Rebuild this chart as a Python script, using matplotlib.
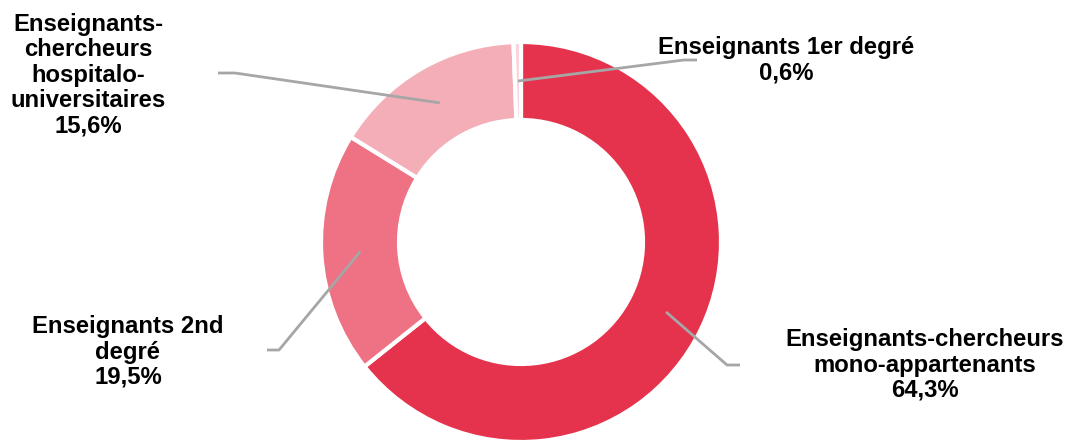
import numpy as np
import matplotlib
matplotlib.use("Agg")
import matplotlib.pyplot as plt

# Répartition des enseignants (%)
categories = [
    "Enseignants-chercheurs\nmono-appartenants",
    "Enseignants 2nd\ndegré",
    "Enseignants-\nchercheurs\nhospitalo-\nuniversitaires",
    "Enseignants 1er degré",
]
values = [64.3, 19.5, 15.6, 0.6]
colors = ["#E5334D", "#EE7184", "#F4AEB7", "#F9D4DA"]
value_labels = ["64,3%", "19,5%", "15,6%", "0,6%"]

W, H = 1073, 448
fig = plt.figure(figsize=(W / 100, H / 100), dpi=100)
ax = fig.add_axes([0, 0, 1, 1])

cx, cy, R = 521, H - 242, 200
ring = 0.39

wedges, _ = ax.pie(
    values, colors=colors, startangle=90, counterclock=False,
    center=(cx, cy), radius=R,
    wedgeprops=dict(width=R * ring, edgecolor="white", linewidth=3),
)
ax.set_xlim(0, W)
ax.set_ylim(0, H)
ax.set_aspect("auto")
ax.axis("off")

# Leader elbows and label centres (pixel coords, y from top)
elbows = [((727, 365), (740, 365)),
          ((279, 350), (267, 350)),
          ((235, 73), (218, 73)),
          ((684, 60), (697, 60))]
label_pos = [(925, 365), (128, 352), (88, 75), (786, 60)]

r_mid = R * (1 - ring / 2)
for w, (e1, e2), (lx, ly), cat, val in zip(wedges, elbows, label_pos,
                                            categories, value_labels):
    ang = np.deg2rad((w.theta1 + w.theta2) / 2)
    sx, sy = cx + r_mid * np.cos(ang), cy + r_mid * np.sin(ang)
    ax.plot([sx, e1[0], e2[0]], [sy, H - e1[1], H - e2[1]],
            color="#A6A6A6", lw=2, solid_capstyle="butt", zorder=3)
    ax.text(lx, H - ly, f"{cat}\n{val}", ha="center", va="center",
            fontsize=17.2, fontweight="bold", family="Liberation Sans",
            color="black", linespacing=1.13)

fig.savefig("out.png", dpi=100)
